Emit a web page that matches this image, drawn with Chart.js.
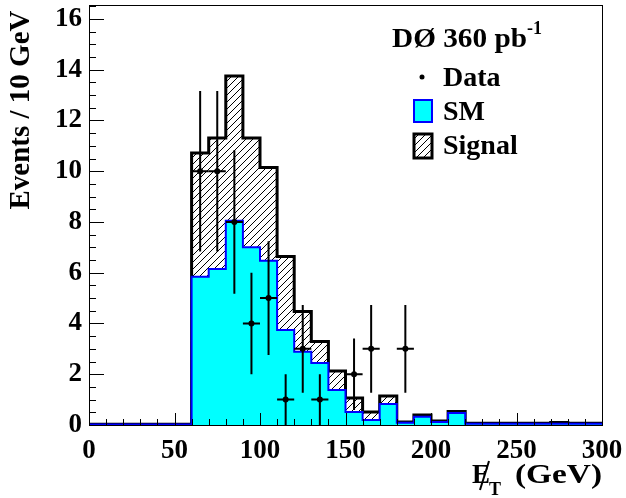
<!DOCTYPE html>
<html>
<head>
<meta charset="utf-8">
<script src="https://cdn.jsdelivr.net/npm/chart.js@4.4.0/dist/chart.umd.min.js"></script>
<style>
body { margin: 0; background: #fff; }
</style>
</head>
<body>
<canvas id="myChart" width="626" height="498"></canvas>
<script>
// histogram bins, 10 GeV wide
const binLow = [0, 10, 20, 30, 40, 50, 60, 70, 80, 90, 100, 110, 120, 130, 140,
                150, 160, 170, 180, 190, 200, 210, 220, 230, 240, 250, 260, 270, 280, 290];
const xMax = 300;
const binWidth = 10;

// SM expectation per bin
const smValues = [0.02, 0.02, 0.02, 0.02, 0.02, 0.02, 5.84, 6.15, 8.05, 7.0,
                  6.47, 3.74, 2.89, 2.44, 1.38, 0.51, 0.2, 0.83, 0.09, 0.33,
                  0.12, 0.47, 0.05, 0.05, 0.05, 0.05, 0.05, 0.05, 0.05, 0.05];
// SM + signal per bin
const totalValues = [0.03, 0.03, 0.03, 0.03, 0.03, 0.03, 10.72, 11.31, 13.75, 11.31,
                     10.15, 6.64, 4.47, 3.29, 2.13, 1.06, 0.51, 1.14, 0.12, 0.39,
                     0.16, 0.53, 0.07, 0.07, 0.07, 0.07, 0.07, 0.1, 0.07, 0.07];

// data points
const dataCenters = [65, 75, 85, 95, 105, 115, 125, 135, 155, 165, 185];
const dataCounts = [10, 10, 8, 4, 5, 1, 3, 1, 2, 3, 3];
const dataErrors = [3.16, 3.16, 2.83, 2, 2.24, 1, 1.73, 1, 1.41, 1.73, 1.73];

const xTicks = [0, 50, 100, 150, 200, 250, 300];
const yTicks = [0, 2, 4, 6, 8, 10, 12, 14, 16];
const yMax = 16.55;

const serif = "'Liberation Serif', 'DejaVu Serif', serif";

const toSteps = (values) => {
    const pts = binLow.map((x, i) => ({x: x, y: values[i]}));
    pts.push({x: xMax, y: values[values.length - 1]});
    return pts;
}

const canvas = document.getElementById("myChart");
const mainCtx = canvas.getContext("2d");

const makeHatch = () => {
    const c = document.createElement("canvas");
    c.width = 7;
    c.height = 7;
    const g = c.getContext("2d");
    g.strokeStyle = "#000";
    g.lineWidth = 1;
    g.beginPath();
    g.moveTo(0, 7); g.lineTo(7, 0);
    g.moveTo(-1, 1); g.lineTo(1, -1);
    g.moveTo(6, 8); g.lineTo(8, 6);
    g.stroke();
    return mainCtx.createPattern(c, "repeat");
}

// draw text stretched to a given width
const fillWide = (ctx, text, x, y, width) => {
    const w = ctx.measureText(text).width;
    ctx.save();
    ctx.translate(x, y);
    ctx.scale(width / w, 1);
    ctx.fillText(text, 0, 0);
    ctx.restore();
}

const errorBars = {
    id: "errorBars",
    afterDatasetsDraw(chart) {
        const {ctx, scales: {x, y}} = chart;
        ctx.save();
        ctx.strokeStyle = "#000";
        ctx.lineWidth = 2;
        dataCenters.forEach((c, i) => {
            const px = x.getPixelForValue(c);
            const py = y.getPixelForValue(dataCounts[i]);
            ctx.beginPath();
            ctx.moveTo(px, y.getPixelForValue(dataCounts[i] - dataErrors[i]));
            ctx.lineTo(px, y.getPixelForValue(dataCounts[i] + dataErrors[i]));
            ctx.moveTo(x.getPixelForValue(c - binWidth / 2), py);
            ctx.lineTo(x.getPixelForValue(c + binWidth / 2), py);
            ctx.stroke();
        });
        ctx.restore();
    }
};

const decorations = {
    id: "decorations",
    afterDraw(chart) {
        const {ctx, chartArea: a, scales: {x, y}} = chart;
        ctx.save();
        ctx.strokeStyle = "#000";
        ctx.lineWidth = 1;
        ctx.strokeRect(Math.round(a.left) + 0.5, Math.round(a.top) + 0.5,
                       Math.round(a.right - a.left), Math.round(a.bottom - a.top));

        // ticks drawn inside the frame
        ctx.beginPath();
        for (let v = 0; v <= yMax; v += 0.5) {
            const py = Math.round(y.getPixelForValue(v)) + 0.5;
            const len = v % 2 === 0 ? 15 : 7;
            ctx.moveTo(a.left, py);
            ctx.lineTo(a.left + len, py);
        }
        for (let v = 0; v <= xMax; v += 10) {
            const px = Math.round(x.getPixelForValue(v)) + 0.5;
            const len = v % 50 === 0 ? 12 : 6;
            ctx.moveTo(px, a.bottom);
            ctx.lineTo(px, a.bottom - len);
        }
        ctx.stroke();

        ctx.fillStyle = "#000";
        ctx.textAlign = "left";
        ctx.textBaseline = "alphabetic";

        // legend
        ctx.font = "bold 28px " + serif;
        fillWide(ctx, "DØ 360 pb", 392, 47, 135);
        ctx.font = "bold 18px " + serif;
        ctx.fillText("-1", 527, 34);

        ctx.font = "bold 28px " + serif;
        ctx.beginPath();
        ctx.arc(422, 77, 2.5, 0, Math.PI * 2);
        ctx.fill();
        ctx.fillText("Data", 443, 86);

        ctx.fillStyle = "#00ffff";
        ctx.fillRect(414, 100, 18, 22);
        ctx.strokeStyle = "#0000ff";
        ctx.lineWidth = 2;
        ctx.strokeRect(414, 100, 18, 22);
        ctx.fillStyle = "#000";
        ctx.fillText("SM", 443, 120);

        ctx.fillStyle = makeHatch();
        ctx.fillRect(414, 134, 18, 24);
        ctx.strokeStyle = "#000";
        ctx.lineWidth = 3;
        ctx.strokeRect(414, 134, 18, 24);
        ctx.fillStyle = "#000";
        ctx.fillText("Signal", 443, 154);

        // y title
        ctx.save();
        ctx.translate(29, 110);
        ctx.rotate(-Math.PI / 2);
        ctx.textAlign = "center";
        ctx.font = "bold 29px " + serif;
        ctx.fillText("Events / 10 GeV", 0, 0);
        ctx.restore();

        // x title: missing E_T
        ctx.font = "bold 27px " + serif;
        ctx.fillText("E", 472, 483);
        ctx.lineWidth = 2;
        ctx.beginPath();
        ctx.moveTo(480, 490);
        ctx.lineTo(489, 461);
        ctx.stroke();
        ctx.font = "bold 18px " + serif;
        ctx.fillText("T", 489, 495);
        ctx.font = "bold 27px " + serif;
        fillWide(ctx, "(GeV)", 515, 483, 87);
        ctx.restore();
    }
};

const tickFont = {family: serif, weight: "bold", size: 27};

new Chart(canvas, {
    type: "line",
    data: {
        datasets: [
            {
                label: "Data",
                data: dataCenters.map((c, i) => ({x: c, y: dataCounts[i]})),
                showLine: false,
                pointRadius: 3,
                pointBackgroundColor: "#000",
                pointBorderColor: "#000",
                pointBorderWidth: 0
            },
            {
                label: "SM",
                data: toSteps(smValues),
                stepped: true,
                fill: "origin",
                backgroundColor: "#00ffff",
                borderColor: "#0000ff",
                borderWidth: 2,
                pointRadius: 0
            },
            {
                label: "Signal",
                data: toSteps(totalValues),
                stepped: true,
                fill: "-1",
                backgroundColor: makeHatch(),
                borderColor: "#000",
                borderWidth: 3,
                pointRadius: 0
            }
        ]
    },
    options: {
        responsive: false,
        animation: false,
        devicePixelRatio: 1,
        layout: {padding: {top: 5, right: 24, left: 0, bottom: 0}},
        plugins: {
            legend: {display: false},
            tooltip: {enabled: false}
        },
        scales: {
            x: {
                type: "linear",
                min: 0,
                max: xMax,
                afterBuildTicks: (s) => { s.ticks = xTicks.map(v => ({value: v})); },
                afterFit: (s) => { s.height = 73; s.paddingLeft = 0; s.paddingRight = 0; },
                grid: {display: false, drawTicks: false},
                border: {display: false},
                ticks: {color: "#000", font: tickFont, padding: 10, maxRotation: 0, autoSkip: false}
            },
            y: {
                type: "linear",
                min: 0,
                max: yMax,
                afterBuildTicks: (s) => { s.ticks = yTicks.map(v => ({value: v})); },
                afterFit: (s) => { s.width = 89; s.paddingTop = 0; s.paddingBottom = 0; },
                grid: {display: false, drawTicks: false},
                border: {display: false},
                ticks: {color: "#000", font: tickFont, padding: 7, autoSkip: false}
            }
        }
    },
    plugins: [errorBars, decorations]
});
</script>
</body>
</html>
